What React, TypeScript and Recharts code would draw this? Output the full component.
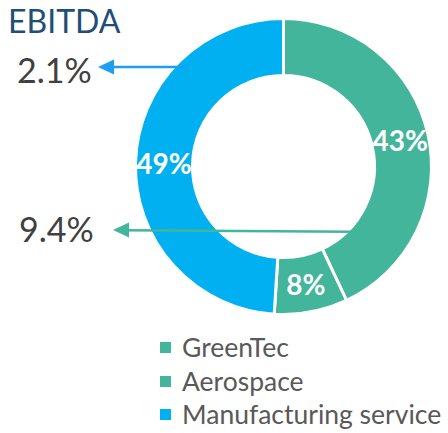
import { Cell, Legend, Pie, PieChart } from "recharts";

const segments = ["GreenTec", "Aerospace", "Manufacturing service"];
const shares = [43, 8, 49];
const colors = ["#43B59A", "#43B59A", "#00B0F0"];

const chartTitle = "EBITDA";
const callouts = ["2.1%", "9.4%"];

const data = segments.map((name, i) => ({ name, value: shares[i] }));

const FONT = "Lato, 'Open Sans', sans-serif";
const RADIAN = Math.PI / 180;

function SliceLabel(props: any) {
  const { cx, cy, midAngle, innerRadius, outerRadius, percent } = props;
  const r = (innerRadius + outerRadius) / 2;
  const x = cx + r * Math.cos(-midAngle * RADIAN);
  const y = cy + r * Math.sin(-midAngle * RADIAN);
  return (
    <text
      x={x}
      y={y}
      fill="#fff"
      fontFamily={FONT}
      fontSize={28}
      fontWeight={700}
      textAnchor="middle"
      dominantBaseline="central"
    >
      {Math.round(percent * 100)}%
    </text>
  );
}

function LegendBox() {
  return (
    <div style={{ fontFamily: FONT, fontSize: 26.5, color: "#595959" }}>
      {data.map((d, i) => (
        <div
          key={d.name}
          style={{ display: "flex", alignItems: "center", height: 33.5 }}
        >
          <span
            style={{
              width: 11,
              height: 11,
              background: colors[i],
              marginRight: 11,
              display: "inline-block",
            }}
          />
          <span style={{ lineHeight: "33.5px", whiteSpace: "nowrap" }}>{d.name}</span>
        </div>
      ))}
    </div>
  );
}

export default function App() {
  return (
    <div style={{ position: "absolute", left: 0, top: 0, width: 448, height: 433, background: "#fff" }}>
      <PieChart width={448} height={433} margin={{ top: 0, right: 0, bottom: 0, left: 0 }}>
        <Pie
          data={data}
          dataKey="value"
          cx={283.5}
          cy={166.5}
          innerRadius={91}
          outerRadius={148}
          startAngle={90}
          endAngle={-270}
          stroke="#fff"
          strokeWidth={3}
          label={SliceLabel}
          labelLine={false}
          isAnimationActive={false}
        >
          {data.map((d, i) => (
            <Cell key={d.name} fill={colors[i]} />
          ))}
        </Pie>
        <Legend
          content={() => <LegendBox />}
          wrapperStyle={{ left: 160, top: 331, width: 290 }}
        />
      </PieChart>
      <svg
        width={448}
        height={433}
        style={{ position: "absolute", left: 0, top: 0, pointerEvents: "none" }}
      >
        <text x={8} y={33} fontFamily={FONT} fontSize={32} fill="#1F4E79">
          {chartTitle}
        </text>
        <text x={17} y={83} fontFamily={FONT} fontSize={34} fill="#404040">
          {callouts[0]}
        </text>
        <text x={19} y={242} fontFamily={FONT} fontSize={34} fill="#404040">
          {callouts[1]}
        </text>
        <line x1={187} y1={67} x2={110} y2={67} stroke="#1F9DF2" strokeWidth={2.5} />
        <polygon points="98,67 114,59.5 114,74.5" fill="#1F9DF2" />
        <line x1={352} y1={231.7} x2={125} y2={230.2} stroke="#43B59A" strokeWidth={2.5} />
        <polygon points="113,230 129,222.5 129,237.5" fill="#43B59A" />
      </svg>
    </div>
  );
}
